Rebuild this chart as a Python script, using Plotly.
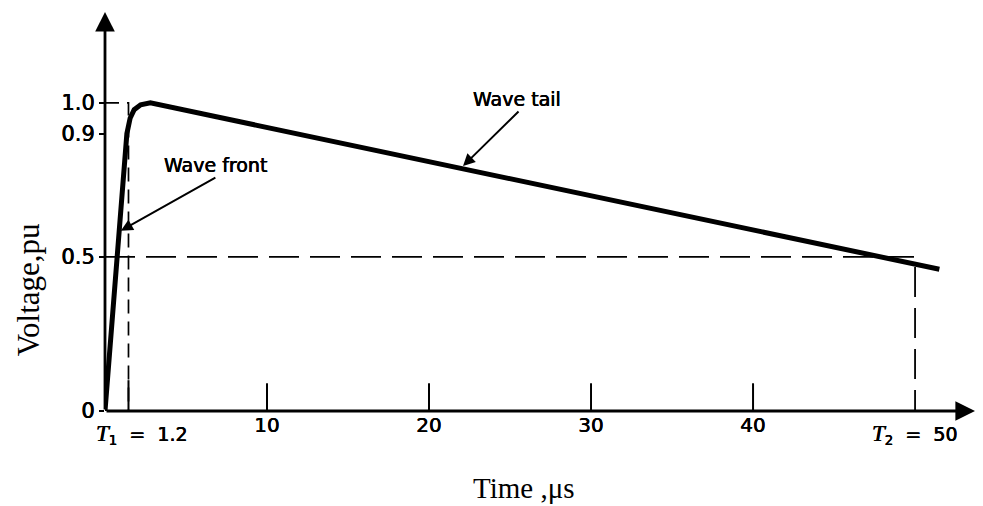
import plotly.graph_objects as go

# ---- data ----
time_us = [0, 0.75, 1.35, 1.55, 1.8, 2.2, 2.8, 51.5]
voltage_pu = [0, 0.5, 0.9, 0.95, 0.978, 0.994, 1.0, 0.46]

t1_pos = 1.45          # T1 marker (labelled 1.2)
t2_pos = 50            # T2 marker
peak_level = 1.0
half_level = 0.5

x_tick_vals = [10, 20, 30, 40]
x_tick_text = ["10", "20", "30", "40"]
t1_label = ('<span style="font-family:Liberation Serif;font-size:23px"><i>T</i></span>'
            '<sub>1</sub>  =  1.2')
t2_label = ('<span style="font-family:Liberation Serif;font-size:23px"><i>T</i></span>'
            '<sub>2</sub>  =  50')

y_tick_vals = [0, 0.5, 0.9, 1.0]
y_tick_text = ["0", "0.5", "0.9", "1.0"]

x_max = 53.7
y_max = 1.295

# annotation anchor points on the curve
tail_label_pt = (22.1, 0.795)
front_label_pt = (0.98, 0.585)

SANS = "DejaVu Sans, Verdana, sans-serif"
SERIF = "Liberation Serif, Times New Roman, serif"
HEAVY = "0.3px 0 0 black, -0.3px 0 0 black"


def sans(size):
    return dict(family=SANS, size=size, color="black", shadow=HEAVY)


fig = go.Figure()

# dashed guide lines
fig.add_trace(go.Scatter(
    x=[0, t1_pos, t1_pos], y=[peak_level, peak_level, 0],
    mode="lines", line=dict(color="black", width=1.7, dash="14px,8px"),
    hoverinfo="skip", showlegend=False))
fig.add_trace(go.Scatter(
    x=[0, t2_pos, t2_pos], y=[half_level, half_level, 0],
    mode="lines", line=dict(color="black", width=1.8, dash="30px,11px"),
    hoverinfo="skip", showlegend=False))

# main wave
fig.add_trace(go.Scatter(
    x=time_us, y=voltage_pu, mode="lines",
    line=dict(color="black", width=5), hoverinfo="skip", showlegend=False))

# tick marks (upward, inside) on the time axis
tick_marks = [t1_pos] + x_tick_vals
for tv in tick_marks:
    fig.add_shape(type="line", xref="x", yref="y", x0=tv, x1=tv, y0=0,
                  y1=0.09 if tv != t1_pos else 0.1,
                  line=dict(color="black", width=2))

annotations = []
# axes with arrowheads
annotations.append(dict(x=x_max, y=0, ax=0, ay=0, xref="x", yref="y",
                        axref="x", ayref="y", text="", showarrow=True,
                        arrowhead=2, arrowsize=1.4, arrowwidth=2.8,
                        arrowcolor="black"))
annotations.append(dict(x=0, y=y_max, ax=0, ay=0, xref="x", yref="y",
                        axref="x", ayref="y", text="", showarrow=True,
                        arrowhead=2, arrowsize=1.4, arrowwidth=2.8,
                        arrowcolor="black"))

# special tick labels
annotations.append(dict(x=t1_pos, y=0, xref="x", yref="y", text=t1_label,
                        showarrow=False, xshift=14, yshift=-23,
                        xanchor="center", yanchor="middle", font=sans(19)))
annotations.append(dict(x=t2_pos, y=0, xref="x", yref="y", text=t2_label,
                        showarrow=False, xshift=0, yshift=-23,
                        xanchor="center", yanchor="middle", font=sans(19)))

# wave labels + pointer arrows
annotations.append(dict(x=tail_label_pt[0], y=tail_label_pt[1], xref="x", yref="y",
                        text="", showarrow=True, ax=57, ay=-56,
                        arrowhead=2, arrowsize=1.2, arrowwidth=2, arrowcolor="black"))
annotations.append(dict(x=tail_label_pt[0], y=tail_label_pt[1], xref="x", yref="y",
                        text="Wave tail", showarrow=False, xshift=54, yshift=67,
                        xanchor="center", yanchor="middle", font=sans(19)))
annotations.append(dict(x=front_label_pt[0], y=front_label_pt[1], xref="x", yref="y",
                        text="", showarrow=True, ax=96, ay=-54,
                        arrowhead=2, arrowsize=1.2, arrowwidth=2, arrowcolor="black"))
annotations.append(dict(x=front_label_pt[0], y=front_label_pt[1], xref="x", yref="y",
                        text="Wave front", showarrow=False, xshift=95, yshift=66,
                        xanchor="center", yanchor="middle", font=sans(19)))

# axis titles
annotations.append(dict(x=0.4816, y=-0.193, xref="paper", yref="paper",
                        text="Time ,\u03bcs", showarrow=False,
                        xanchor="center", yanchor="middle",
                        font=dict(family=SERIF, size=29, color="black")))
annotations.append(dict(x=-0.087, y=0.3033, xref="paper", yref="paper",
                        text="Voltage,pu", showarrow=False, textangle=-90,
                        xanchor="center", yanchor="middle",
                        font=dict(family=SERIF, size=31, color="black")))

fig.update_layout(
    width=975, height=498,
    margin=dict(l=97, r=8, t=4, b=95),
    paper_bgcolor="white", plot_bgcolor="white",
    showlegend=False,
    annotations=annotations,
    xaxis=dict(range=[0, x_max], showgrid=False, zeroline=False, showline=False,
               tickmode="array", tickvals=x_tick_vals, ticktext=x_tick_text,
               ticks="", tickfont=sans(20)),
    yaxis=dict(range=[0, y_max], showgrid=False, zeroline=False, showline=False,
               tickmode="array", tickvals=y_tick_vals, ticktext=y_tick_text,
               ticks="outside", ticklen=5, tickwidth=2, tickcolor="black",
               tickfont=sans(21)),
)

fig.write_html("out.html")
